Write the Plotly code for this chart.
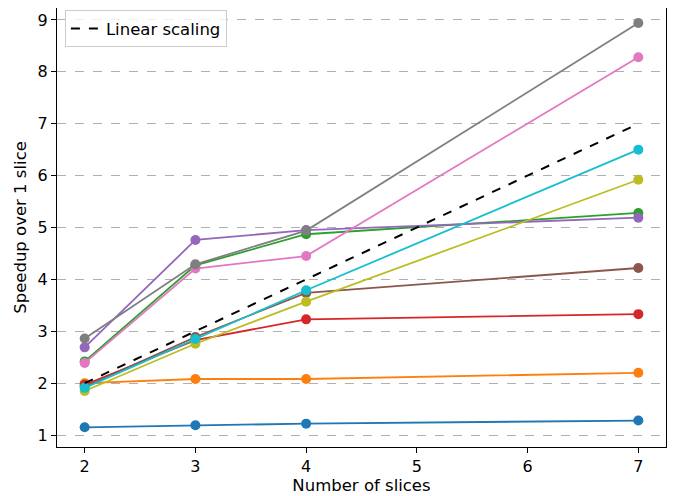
import plotly.graph_objects as go

slices = [2, 3, 4, 7]
series_c0 = [1.15, 1.19, 1.22, 1.28]
series_c1 = [2.00, 2.08, 2.08, 2.20]
series_c2 = [2.42, 4.27, 4.87, 5.28]
series_c3 = [1.97, 2.83, 3.23, 3.33]
series_c4 = [2.69, 4.76, 4.95, 5.19]
series_c5 = [1.93, 2.89, 3.74, 4.22]
series_c6 = [2.39, 4.21, 4.45, 8.28]
series_c7 = [2.86, 4.29, 4.94, 8.94]
series_c8 = [1.85, 2.76, 3.57, 5.92]
series_c9 = [1.91, 2.85, 3.79, 6.50]
linear = [2, 3, 4, 7]

all_series = [series_c0, series_c1, series_c2, series_c3, series_c4,
              series_c5, series_c6, series_c7, series_c8, series_c9]
colors = ["#1f77b4", "#ff7f0e", "#2ca02c", "#d62728", "#9467bd",
          "#8c564b", "#e377c2", "#7f7f7f", "#bcbd22", "#17becf"]

fig = go.Figure()
for vals, col in zip(all_series, colors):
    fig.add_trace(go.Scatter(x=slices, y=vals, mode="lines+markers",
                             line=dict(color=col, width=1.8),
                             marker=dict(color=col, size=10),
                             showlegend=False))
fig.add_trace(go.Scatter(x=slices, y=linear, mode="lines", name="Linear scaling",
                         line=dict(color="black", width=2, dash="dash")))

font = "DejaVu Sans, sans-serif"
fig.update_layout(
    width=686, height=496,
    margin=dict(l=49, r=28, t=0, b=57),
    plot_bgcolor="white", paper_bgcolor="white",
    font=dict(family=font, size=16, color="black"),
    legend=dict(x=0.013, y=0.995, xanchor="left", yanchor="top",
                bordercolor="#cccccc", borderwidth=1, bgcolor="rgba(255,255,255,0.8)",
                font=dict(size=16.5), itemwidth=30, tracegroupgap=0),
    xaxis=dict(range=[1.75, 7.25], tickvals=[2, 3, 4, 5, 6, 7],
               showgrid=False, zeroline=False, showline=True, linecolor="black",
               linewidth=1, mirror=True, ticks="outside", ticklen=5,
               tickcolor="black", tickfont=dict(size=16),
               title=dict(text="Number of slices", font=dict(size=16.5), standoff=0)),
    yaxis=dict(range=[0.77, 9.23], tickvals=list(range(1, 10)),
               showgrid=True, gridcolor="#b0b0b0", griddash="dash", gridwidth=1,
               zeroline=False, showline=True, linecolor="black",
               linewidth=1, mirror=True, ticks="outside", ticklen=5,
               tickcolor="black", tickfont=dict(size=16),
               title=dict(text="Speedup over 1 slice", font=dict(size=16.5), standoff=6)),
)
fig.write_html("out.html")
